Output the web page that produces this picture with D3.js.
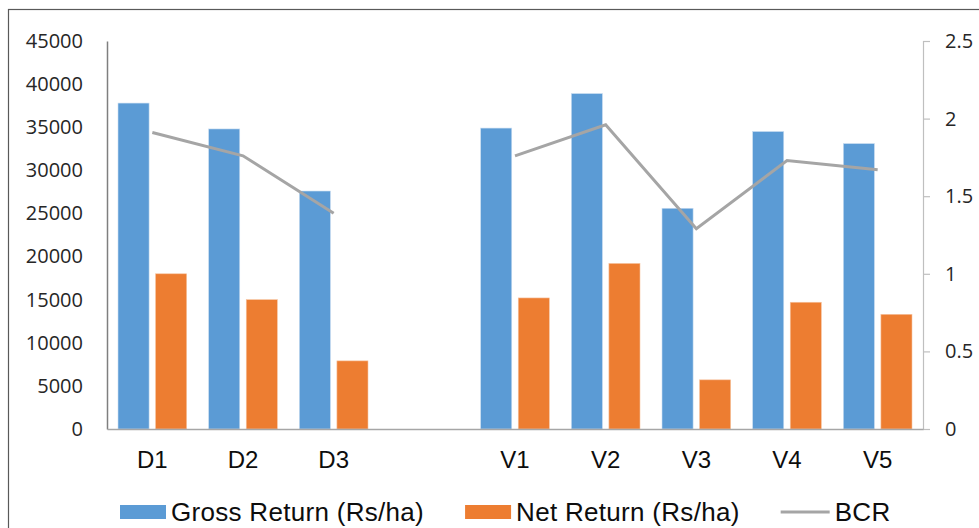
<!DOCTYPE html>
<html>
<head>
<meta charset="utf-8">
<script src="https://cdn.jsdelivr.net/npm/d3@7"></script>
<style>
  html, body { margin: 0; padding: 0; background: #fff; }
  #chart svg { display: block; }
</style>
</head>
<body>
<div id="chart"></div>
<script>
    // data
    const categories = ["D1", "D2", "D3", "", "V1", "V2", "V3", "V4", "V5"];
    const grossReturn = [37800, 34800, 27600, null, 34900, 38900, 25600, 34500, 33100];
    const netReturn = [18000, 15000, 7900, null, 15200, 19200, 5700, 14700, 13300];
    const bcr = [1.91, 1.76, 1.39, null, 1.76, 1.96, 1.29, 1.73, 1.67];
    const leftTicks = [0, 5000, 10000, 15000, 20000, 25000, 30000, 35000, 40000, 45000];
    const rightTicks = [0, 0.5, 1, 1.5, 2, 2.5];
    const seriesNames = ["Gross Return (Rs/ha)", "Net Return (Rs/ha)", "BCR"];

    const width = 979;
    const height = 528;
    const margin = { left: 107, right: 56, top: 41, bottom: 99 };

    const blue = "#5b9bd5";
    const orange = "#ed7d31";
    const grey = "#a5a5a5";

    const svg = d3.select("#chart").append("svg")
        .attr("width", width)
        .attr("height", height);

    // chart border
    svg.append("rect")
        .attr("x", 8.5).attr("y", 9.5)
        .attr("width", width + 10).attr("height", height + 10)
        .attr("fill", "none")
        .attr("stroke", "#595959")
        .attr("stroke-width", 1.2);

    const x = d3.scaleBand()
        .domain(d3.range(categories.length))
        .range([margin.left, width - margin.right]);

    const xInner = d3.scaleBand()
        .domain(["gross", "net"])
        .range([0, x.bandwidth()])
        .paddingInner(0.173)
        .paddingOuter(0.293);

    const y = d3.scaleLinear()
        .domain([0, 45000])
        .range([height - margin.bottom, margin.top]);

    const y2 = d3.scaleLinear()
        .domain([0, 2.5])
        .range([height - margin.bottom, margin.top]);

    const rows = categories.map((c, i) => ({
        i: i, cat: c, gross: grossReturn[i], net: netReturn[i], bcr: bcr[i]
    }));

    // bars
    const bars = svg.append("g");
    bars.selectAll("rect.gross")
        .data(rows.filter(d => d.gross != null))
        .join("rect")
        .attr("class", "gross")
        .attr("x", d => x(d.i) + xInner("gross"))
        .attr("y", d => y(d.gross))
        .attr("width", xInner.bandwidth())
        .attr("height", d => y(0) - y(d.gross))
        .attr("fill", blue)
        .attr("stroke", "#c9dcf0")
        .attr("stroke-width", 0.6);

    bars.selectAll("rect.net")
        .data(rows.filter(d => d.net != null))
        .join("rect")
        .attr("class", "net")
        .attr("x", d => x(d.i) + xInner("net"))
        .attr("y", d => y(d.net))
        .attr("width", xInner.bandwidth())
        .attr("height", d => y(0) - y(d.net))
        .attr("fill", orange)
        .attr("stroke", "#f6c3a0")
        .attr("stroke-width", 0.6);

    // axes
    const leftAxis = svg.append("g")
        .attr("transform", `translate(${margin.left},0)`)
        .call(d3.axisLeft(y).tickValues(leftTicks).tickSize(0).tickPadding(24).tickFormat(d3.format("d")));
    leftAxis.select(".domain").attr("stroke", "#7f7f7f").attr("stroke-width", 1.5);

    const rightAxis = svg.append("g")
        .attr("transform", `translate(${width - margin.right},0)`)
        .call(d3.axisRight(y2).tickValues(rightTicks).tickSizeInner(7).tickSizeOuter(7).tickPadding(15).tickFormat(d => d));
    rightAxis.select(".domain").attr("stroke", "#bfbfbf").attr("stroke-width", 1.2);
    rightAxis.selectAll(".tick line").attr("stroke", "#bfbfbf").attr("stroke-width", 1.2);

    [leftAxis, rightAxis].forEach(g => g.selectAll("text")
        .attr("font-family", "'Open Sans', sans-serif")
        .attr("font-size", "20px")
        .attr("fill", "#262626"));

    const bottomAxis = svg.append("g")
        .attr("transform", `translate(0,${height - margin.bottom})`)
        .call(d3.axisBottom(x).tickSize(0).tickPadding(22).tickFormat(i => categories[i]));
    bottomAxis.select(".domain").attr("stroke", "#a6a6a6").attr("stroke-width", 1.5);
    bottomAxis.selectAll("text")
        .attr("font-family", "'Liberation Sans', Arial, sans-serif")
        .attr("font-size", "24px")
        .attr("fill", "#0d0d0d");

    // BCR line, broken over the empty category
    const line = d3.line()
        .defined(d => d.bcr != null)
        .x(d => x(d.i) + x.bandwidth() / 2)
        .y(d => y2(d.bcr));

    svg.append("path")
        .datum(rows)
        .attr("d", line)
        .attr("fill", "none")
        .attr("stroke", grey)
        .attr("stroke-width", 3);

    // legend
    const legend = svg.append("g")
        .attr("font-family", "'Liberation Sans', Arial, sans-serif")
        .attr("font-size", "26px")
        .attr("letter-spacing", "0.3px")
        .attr("fill", "#0d0d0d");

    let lx = 120;
    const ly = 512;
    seriesNames.forEach((name, k) => {
        if (k < 2) {
            legend.append("rect")
                .attr("x", lx).attr("y", ly - 7)
                .attr("width", 46).attr("height", 14)
                .attr("fill", k === 0 ? blue : orange);
        } else {
            legend.append("line")
                .attr("x1", lx).attr("x2", lx + 49)
                .attr("y1", ly).attr("y2", ly)
                .attr("stroke", grey)
                .attr("stroke-width", 3);
        }
        const sw = k < 2 ? 46 : 49;
        const t = legend.append("text")
            .attr("x", lx + sw + 5)
            .attr("y", ly + 9)
            .text(name);
        lx += sw + 5 + t.node().getComputedTextLength() + 41;
    });
</script>
</body>
</html>
